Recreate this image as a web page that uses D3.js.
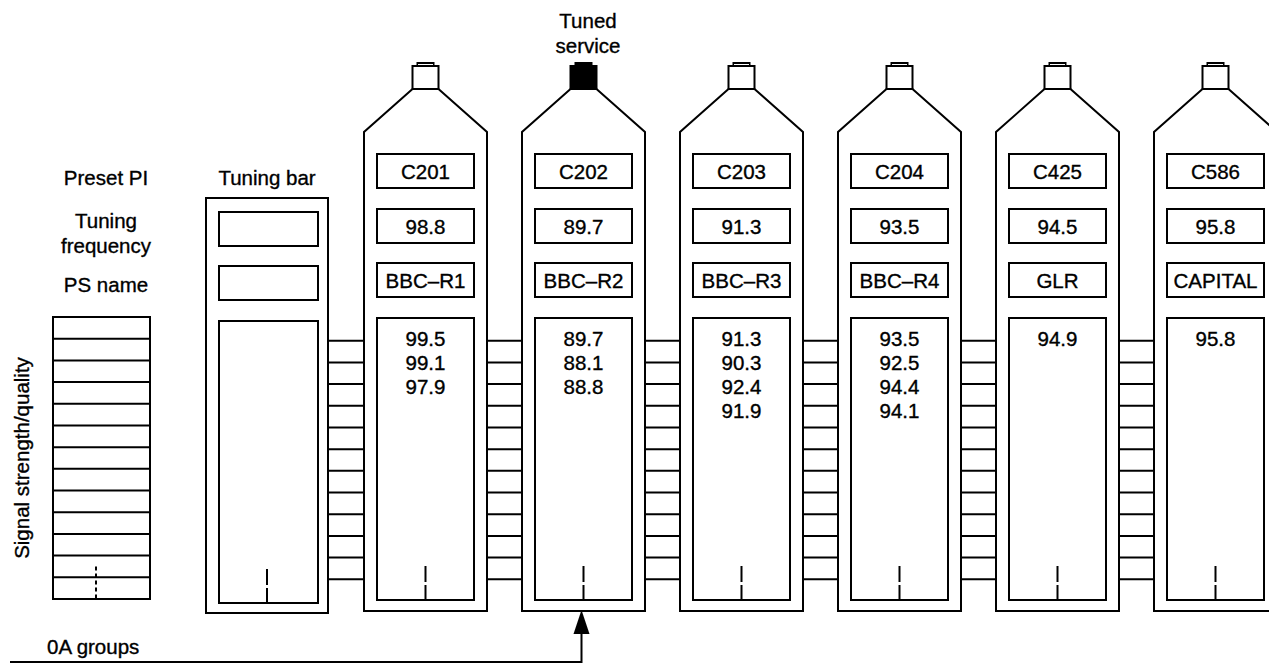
<!DOCTYPE html>
<html>
<head>
<meta charset="utf-8">
<script src="https://cdn.jsdelivr.net/npm/d3@7"></script>
<style>
  body { margin: 0; background: #fff; }
  svg text { font-family: "Liberation Sans", Arial, Helvetica, sans-serif; font-size: 20.5px; fill: #000; stroke: #000; stroke-width: 0.35px; }
</style>
</head>
<body>
<div id="chart"></div>
<script>
// station data
const presetPI = ['C201', 'C202', 'C203', 'C204', 'C425', 'C586'];
const tuningFreq = ['98.8', '89.7', '91.3', '93.5', '94.5', '95.8'];
const psName = ['BBC\u2013R1', 'BBC\u2013R2', 'BBC\u2013R3', 'BBC\u2013R4', 'GLR', 'CAPITAL'];
const altFreqs = [
    ['99.5', '99.1', '97.9'],
    ['89.7', '88.1', '88.8'],
    ['91.3', '90.3', '92.4', '91.9'],
    ['93.5', '92.5', '94.4', '94.1'],
    ['94.9'],
    ['95.8']
];
const tunedIndex = 1;
const signalRows = 13;
const rowLabels = [['Preset PI'], ['Tuning', 'frequency'], ['PS name']];

var width = 1269, height = 664;

var svg = d3.select('#chart').append('svg')
    .attr('width', width)
    .attr('height', height);

// column 0 is the tuning bar, 1..6 are the station stacks
var colX = d3.scaleLinear().domain([0, 6]).range([206, 1154]);
var colW = 123, inset = 13;

// vertical rows of the boxes
var boxY = {pi: 154, freq: 209, ps: 263, af: 318};
var boxH = 34, afBottom = 600, colBottom = 611;

// signal ladder scale
var lad = d3.scaleLinear().domain([0, signalRows]).range([317, 599]);

var g = svg.append('g')
    .attr('fill', 'none')
    .attr('stroke', '#000')
    .attr('stroke-width', 2);

// left signal strength ladder
g.append('rect')
    .attr('x', 53).attr('y', lad(0))
    .attr('width', 97).attr('height', lad(signalRows) - lad(0));
g.selectAll('.lrow')
    .data(d3.range(1, signalRows))
    .enter().append('line')
    .attr('x1', 53).attr('x2', 150)
    .attr('y1', d => lad(d)).attr('y2', d => lad(d));
g.append('line')
    .attr('x1', 96).attr('x2', 96)
    .attr('y1', lad(signalRows - 1.5)).attr('y2', lad(signalRows))
    .attr('stroke-dasharray', '4,3');

// tuning bar
var tb = colX(0);
g.append('rect').attr('x', tb).attr('y', 198).attr('width', 122).attr('height', 613 - 198);
g.append('rect').attr('x', tb + inset).attr('y', boxY.freq + 3).attr('width', 99).attr('height', boxH);
g.append('rect').attr('x', tb + inset).attr('y', boxY.ps + 3).attr('width', 99).attr('height', boxH);
g.append('rect').attr('x', tb + inset).attr('y', boxY.af + 3).attr('width', 99).attr('height', afBottom - boxY.af);

// ladder connectors between columns
for (var i = 0; i < 6; i++) {
    var x1 = colX(i) + (i == 0 ? 122 : colW), x2 = colX(i + 1);
    g.selectAll('.con' + i)
        .data(d3.range(1, signalRows))
        .enter().append('line')
        .attr('x1', x1).attr('x2', x2)
        .attr('y1', d => lad(d) + 2).attr('y2', d => lad(d) + 2);
}

// station stacks
presetPI.forEach(function(pi, k) {
    var x = colX(k + 1), cx = x + colW / 2;
    var outline = [[x, colBottom], [x, 132], [cx - 13, 89], [cx + 13, 89], [x + colW, 132], [x + colW, colBottom]];
    g.append('path').attr('d', d3.line()(outline) + 'Z');
    // cap on top, filled for the tuned service
    g.append('rect').attr('x', cx - 13).attr('y', 66).attr('width', 26).attr('height', 23)
        .attr('fill', k == tunedIndex ? '#000' : '#fff');
    g.append('rect').attr('x', cx - 8).attr('y', 63).attr('width', 16).attr('height', 3)
        .attr('fill', k == tunedIndex ? '#000' : '#fff');

    ['pi', 'freq', 'ps'].forEach(function(r) {
        g.append('rect').attr('x', x + inset).attr('y', boxY[r])
            .attr('width', colW - 2 * inset).attr('height', boxH);
    });
    g.append('rect').attr('x', x + inset).attr('y', boxY.af)
        .attr('width', colW - 2 * inset).attr('height', afBottom - boxY.af);

    svg.append('text').attr('x', cx).attr('y', boxY.pi + boxH / 2 + 7.5).attr('text-anchor', 'middle').text(pi);
    svg.append('text').attr('x', cx).attr('y', boxY.freq + boxH / 2 + 7.5).attr('text-anchor', 'middle').text(tuningFreq[k]);
    svg.append('text').attr('x', cx).attr('y', boxY.ps + boxH / 2 + 8).attr('text-anchor', 'middle').text(psName[k]);
    svg.selectAll('.af' + k)
        .data(altFreqs[k])
        .enter().append('text')
        .attr('x', cx)
        .attr('y', (d, j) => 346 + j * 24)
        .attr('text-anchor', 'middle')
        .text(d => d);
});

// dashed pointers at the bottom of each list
d3.range(0, 7).forEach(function(i) {
    var cx = colX(i) + (i == 0 ? 61 : colW / 2);
    var off = i == 0 ? 3 : 0;
    g.append('line').attr('x1', cx).attr('x2', cx).attr('y1', 566 + off).attr('y2', 582 + off);
    g.append('line').attr('x1', cx).attr('x2', cx).attr('y1', 585 + off).attr('y2', afBottom + off);
});

// 0A groups feed with arrow into the tuned service
var ax = colX(tunedIndex + 1) + colW / 2 - 2;
g.append('path').attr('d', d3.line()([[10, 662], [ax, 662], [ax, 630]]));
svg.append('path')
    .attr('d', d3.line()([[ax, 610], [ax - 8, 634], [ax + 8, 634]]) + 'Z')
    .attr('fill', '#000');

// labels
rowLabels.forEach(function(lines, r) {
    var base = [185, 228, 292][r];
    lines.forEach(function(t, j) {
        svg.append('text').attr('x', 106).attr('y', base + j * 25).attr('text-anchor', 'middle').text(t);
    });
});
svg.append('text').attr('x', tb + 61).attr('y', 185).attr('text-anchor', 'middle').text('Tuning bar');
svg.append('text').attr('x', 588).attr('y', 28).attr('text-anchor', 'middle').text('Tuned');
svg.append('text').attr('x', 588).attr('y', 53).attr('text-anchor', 'middle').text('service');
svg.append('text').attr('transform', 'translate(29,458) rotate(-90)').attr('text-anchor', 'middle').text('Signal strength/quality');
svg.append('text').attr('x', 47).attr('y', 654).text('0A groups');
</script>
</body>
</html>
